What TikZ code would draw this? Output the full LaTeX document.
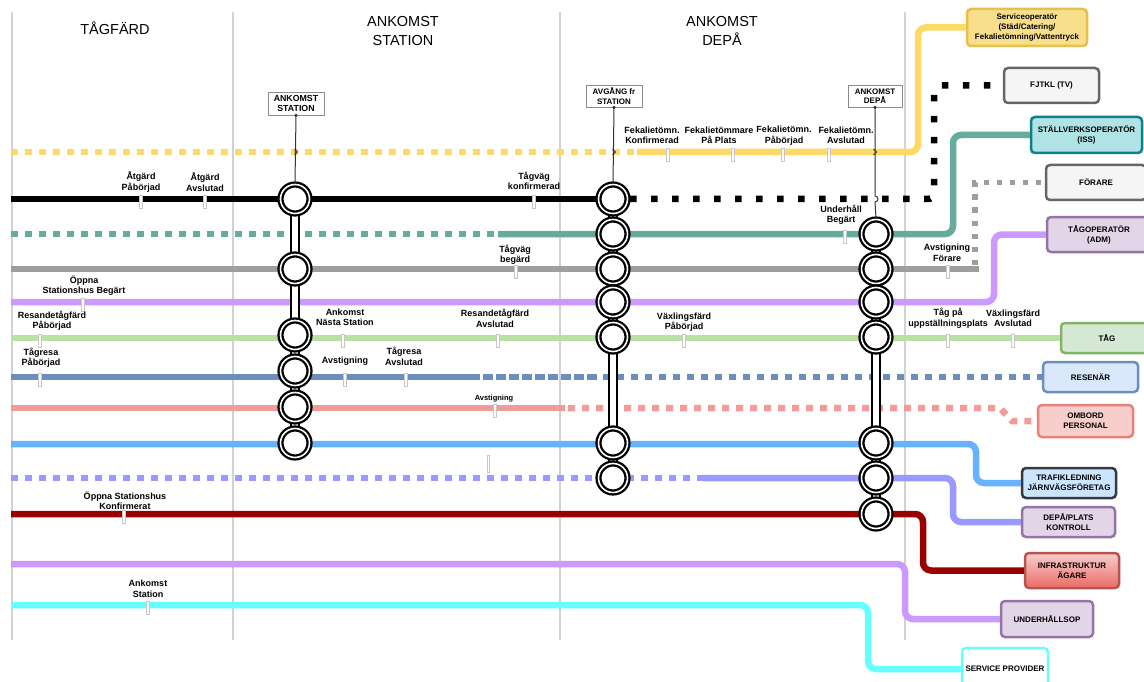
\documentclass[tikz,border=0pt]{standalone}
\usepackage{fontspec}
\setmainfont{Liberation Sans}
\usetikzlibrary{calc}

% track colours
\definecolor{cYellow}{HTML}{FFD966}
\definecolor{cTeal}{HTML}{67AB9F}
\definecolor{cGray}{HTML}{9E9E9E}
\definecolor{cPurple}{HTML}{CC99FF}
\definecolor{cGreen}{HTML}{B9E0A5}
\definecolor{cSteel}{HTML}{6C8EBF}
\definecolor{cSalmon}{HTML}{F19C99}
\definecolor{cSky}{HTML}{66B2FF}
\definecolor{cPeri}{HTML}{9999FF}
\definecolor{cRed}{HTML}{990000}
\definecolor{cCyan}{HTML}{66FFFF}
% role box colours
\definecolor{svcFill}{HTML}{F9DF8C}
\definecolor{svcLine}{HTML}{E6C04C}
\definecolor{greyFill}{HTML}{F5F5F5}
\definecolor{greyLine}{HTML}{666666}
\definecolor{issFill}{HTML}{B0E3E6}
\definecolor{issLine}{HTML}{0E8088}
\definecolor{lilaFill}{HTML}{E1D5E7}
\definecolor{lilaLine}{HTML}{9673A6}
\definecolor{greenFill}{HTML}{D5E8D4}
\definecolor{greenLine}{HTML}{82B366}
\definecolor{blueFill}{HTML}{DAE8FC}
\definecolor{blueLine}{HTML}{6C8EBF}
\definecolor{pinkFill}{HTML}{F8CECC}
\definecolor{pinkLine}{HTML}{EA807C}
\definecolor{skyFill}{HTML}{CCE5FF}
\definecolor{darkLine}{HTML}{36393D}
\definecolor{redTop}{HTML}{F8CECC}
\definecolor{redBot}{HTML}{EA6B66}
\definecolor{redLine}{HTML}{B85450}
\definecolor{gridGrey}{HTML}{D2D2D2}

\begin{document}
\begin{tikzpicture}[x=1pt,y=-1pt,
  gridline/.style={draw=gridGrey,line width=1.2pt},
  hdr/.style={font=\fontsize{14.5}{18.5}\selectfont,align=center,inner sep=0pt},
  track/.style={line width=6.5pt},
  sqdots/.style={dash pattern=on 7pt off 7pt},
  widedots/.style={dash pattern=on 6.5pt off 14.5pt},
  smalldots/.style={line width=5.5pt,dash pattern=on 5.5pt off 7.5pt},
  densedash/.style={dash pattern=on 10pt off 3pt},
  stn/.style={circle,draw=black,line width=2.3pt,double=white,double distance=1.6pt,
    fill=white,minimum size=29pt,inner sep=0pt},
  stnbar/.style={draw=black,line width=2pt,double=white,double distance=5.5pt},
  pinbox/.style={draw=black!45,fill=white,line width=0.8pt,align=center,inner sep=1pt,
    font=\bfseries\fontsize{8}{9.5}\selectfont,minimum height=22pt},
  pinline/.style={draw=black!80,line width=1pt},
  crossmark/.style={draw=black!80,line width=0.8pt},
  rolebox/.style={rounded corners=4pt,line width=2.5pt,align=center,inner sep=1pt,
    font=\bfseries\fontsize{8}{10}\selectfont},
  evlabel/.style={font=\bfseries\fontsize{9}{10.5}\selectfont,align=center,inner sep=0pt},
  evtick/.pic={\filldraw[white,draw=black!22,line width=0.35pt] (-1.4,-3.6) rectangle (1.4,9);}
]
\useasboundingbox (0,0) rectangle (1144,682);
\fill[white] (0,0) rectangle (1144,682);
\clip (0,0) rectangle (1144,682);

% phase separators
\foreach \gx in {12,233,560,905} \draw[gridline] (\gx,12) -- (\gx,640);

% phase headers
\node[hdr] (hTrip) at (115,28) {TÅGFÄRD};
\node[hdr] (hStation) at (403,31) {ANKOMST\\STATION};
\node[hdr] (hDepot) at (722,31) {ANKOMST\\DEPÅ};

% role boxes
\node[rolebox,draw=svcLine,fill=svcFill,minimum width=120pt,minimum height=37pt,
  font=\bfseries\fontsize{8}{10.2}\selectfont] (svc) at (1027,27.5)
  {Serviceoperatör\\(Städ/Catering/\\Fekalietömning/Vattentryck};
\node[rolebox,draw=greyLine,fill=greyFill,minimum width=95pt,minimum height=35pt] (fjtkl) at (1051.5,85.5) {FJTKL (TV)};
\node[rolebox,draw=issLine,fill=issFill,minimum width=111pt,minimum height=36pt] (iss) at (1086.5,135) {STÄLLVERKSOPERATÖR\\(ISS)};
\node[rolebox,draw=greyLine,fill=greyFill,minimum width=100pt,minimum height=35pt] (forare) at (1096,182.5) {FÖRARE};
\node[rolebox,draw=lilaLine,fill=lilaFill,minimum width=104pt,minimum height=35pt] (tagop) at (1099,234.5) {TÅGOPERATÖR\\(ADM)};
\node[rolebox,draw=greenLine,fill=greenFill,minimum width=92pt,minimum height=30pt] (tag) at (1107,338) {TÅG};
\node[rolebox,draw=blueLine,fill=blueFill,minimum width=95pt,minimum height=30pt] (resenar) at (1090.5,377) {RESENÄR};
\node[rolebox,draw=pinkLine,fill=pinkFill,minimum width=95pt,minimum height=32pt] (ombord) at (1085.5,421) {OMBORD\\PERSONAL};
\node[rolebox,draw=darkLine,fill=skyFill,minimum width=94pt,minimum height=30pt] (trafik) at (1069,483) {TRAFIKLEDNING\\JÄRNVÄGSFÖRETAG};
\node[rolebox,draw=lilaLine,fill=lilaFill,minimum width=93pt,minimum height=30pt] (depa) at (1068.5,522) {DEPÅ/PLATS\\KONTROLL};
\node[rolebox,draw=redLine,top color=redTop,bottom color=redBot,minimum width=94pt,minimum height=35pt] (infra) at (1072,570.5) {INFRASTRUKTUR\\ÄGARE};
\node[rolebox,draw=lilaLine,fill=lilaFill,minimum width=92pt,minimum height=36pt] (underh) at (1047,619) {UNDERHÅLLSOP};
\node[rolebox,draw=cCyan,fill=white,minimum width=86pt,minimum height=42pt] (sp) at (1005,669) {SERVICE PROVIDER};

% track start points
\coordinate (yS) at (11,152);
\coordinate (kS) at (11,199);
\coordinate (tS) at (11,234);
\coordinate (gS) at (11,269);
\coordinate (pS) at (11,302);
\coordinate (lS) at (11,338);
\coordinate (bS) at (11,377);
\coordinate (sS) at (11,408);
\coordinate (hS) at (11,444);
\coordinate (vS) at (11,478);
\coordinate (rS) at (11,514);
\coordinate (uS) at (11,564);
\coordinate (cS) at (11,605);

% service operator
\draw[track,cYellow,sqdots] (yS) -- (634,152);
\draw[track,cYellow,rounded corners=8pt] (637,152) -- (918,152) |- (svc.west);
% FJTKL
\draw[track,black] (kS) -- (615,199);
\draw[track,black,widedots,rounded corners=6pt] (630,199) -- (934,199) |- (fjtkl.west);
% signal box operator
\draw[track,cTeal,sqdots] (tS) -- (498,234);
\draw[track,cTeal,rounded corners=8pt] (498,234) -- (953,234) |- (iss.west);
% driver
\draw[track,cGray] (gS) -- (979,269);
\draw[smalldots,cGray] (975,265) |- (forare.west);
% train operator
\draw[track,cPurple,rounded corners=8pt] (pS) -- (994,302) |- (tagop.west);
% train
\draw[track,cGreen] (lS) -- (tag.west);
% passenger
\draw[track,cSteel] (bS) -- (470,377);
\draw[track,cSteel,densedash] (470,377) -- (600,377);
\draw[track,cSteel,sqdots] (603,377) -- (resenar.west);
% on-board staff
\draw[track,cSalmon] (sS) -- (565,408);
\draw[track,cSalmon,sqdots] (568,408) -- (1000,408) -- (1012,421) -- (ombord.west);
% traffic control
\draw[track,cSky,rounded corners=8pt] (hS) -- (976,444) |- (trafik.west);
% depot control
\draw[track,cPeri,sqdots] (vS) -- (703,478);
\draw[track,cPeri,rounded corners=8pt] (703,478) -- (953,478) |- (depa.west);
% infrastructure owner
\draw[track,cRed,rounded corners=8pt] (rS) -- (923,514) |- (infra.west);
% maintenance
\draw[track,cPurple,rounded corners=8pt] (uS) -- (905,564) |- (underh.west);
% service provider
\draw[track,cCyan,rounded corners=8pt] (cS) -- (868,605) |- (sp.west);

% event ticks on the tracks
\foreach \tx/\ty in {141/199,205/199,534/199,845/234,516/269,948/269,83/302,
  40/338,343/338,498/338,684/338,948/338,1013/338,40/377,345/377,406/377,
  495/408,124/514,148/605,668/152,733/152,783/152,829/152}
  \pic at (\tx,\ty) {evtick};
\filldraw[white,draw=black!22,line width=0.35pt] (486.8,455) rectangle (489.2,472);

% station stacks
\draw[stnbar] (295,199) -- (295,443);
\draw[stnbar] (613,199) -- (613,478);
\draw[stnbar] (876,234) -- (876,514);
\foreach \cy [count=\i] in {199,269,335,371,407,443}
  \node[stn] (a\i) at (295,\cy) {};
\foreach \cy [count=\i] in {199,234,269,302,337,443,478}
  \node[stn] (b\i) at (613,\cy) {};
\foreach \cy [count=\i] in {234,269,302,337,443,478,514}
  \node[stn] (c\i) at (876,\cy) {};

% station markers
\node[pinbox,minimum width=56pt,font=\bfseries\fontsize{8.8}{10.3}\selectfont,minimum height=23pt] (pA) at (296,103.5) {ANKOMST\\STATION};
\node[pinbox,minimum width=56pt] (pB) at (614,96) {AVGÅNG fr\\STATION};
\node[pinbox,minimum width=54pt] (pC) at (875,96) {ANKOMST\\DEPÅ};
\draw[pinline] (pA.south) -- (a1.north);
\draw[pinline] (pB.south) -- (b1.north);
% depot marker line hops over the dotted FJTKL track
\draw[pinline] (pC.south) -- ($(pC.south |- 0,199)+(0,-3)$) arc[start angle=90,end angle=-90,radius=3pt] -- (c1.north);
\fill[black!80] (pA.south) circle (1.8);
\fill[black!80] (pB.south) circle (1.8);
\fill[black!80] (pC.south) circle (1.8);
% small chevrons where the marker lines cross the service track
\foreach \mx in {296,614,875}
  \draw[crossmark] (\mx-1.5,149) -- (\mx+1.5,152) -- (\mx-1.5,155);

% event labels
\node[evlabel] (e1) at (141,182) {Åtgärd\\Påbörjad};
\node[evlabel] (e2) at (205,182) {Åtgärd\\Avslutad};
\node[evlabel] (e3) at (534,181) {Tågväg\\konfirmerad};
\node[evlabel] (e4) at (841,215) {Underhåll\\Begärt};
\node[evlabel] (e5) at (515,255) {Tågväg\\begärd};
\node[evlabel] (e6) at (947,253) {Avstigning\\Förare};
\node[evlabel] (e7) at (84,285.5) {Öppna\\Stationshus Begärt};
\node[evlabel] (e8) at (52,320.5) {Resandetågfärd\\Påbörjad};
\node[evlabel] (e9) at (345,317.5) {Ankomst\\Nästa Station};
\node[evlabel] (e10) at (495,318.5) {Resandetågfärd\\Avslutad};
\node[evlabel] (e11) at (684,322) {Växlingsfärd\\Påbörjad};
\node[evlabel] (e12) at (948,318.5) {Tåg på\\uppställningsplats};
\node[evlabel] (e13) at (1013,318.5) {Växlingsfärd\\Avslutad};
\node[evlabel] (e14) at (41,357.5) {Tågresa\\Påbörjad};
\node[evlabel] (e15) at (345,361) {Avstigning};
\node[evlabel] (e16) at (404,356.5) {Tågresa\\Avslutad};
\node[evlabel,font=\bfseries\fontsize{7.5}{9}\selectfont] (e17) at (494,399) {Avstigning};
\node[evlabel] (e18) at (125,500.5) {Öppna Stationshus\\Konfirmerat};
\node[evlabel] (e19) at (148,589) {Ankomst\\Station};
\node[evlabel] (e20) at (652,135.5) {Fekalietömn.\\Konfirmerad};
\node[evlabel] (e21) at (719,135.5) {Fekalietömmare\\På Plats};
\node[evlabel] (e22) at (784,135.5) {Fekalietömn.\\Påbörjad};
\node[evlabel] (e23) at (846,135.5) {Fekalietömn.\\Avslutad};
\end{tikzpicture}
\end{document}
